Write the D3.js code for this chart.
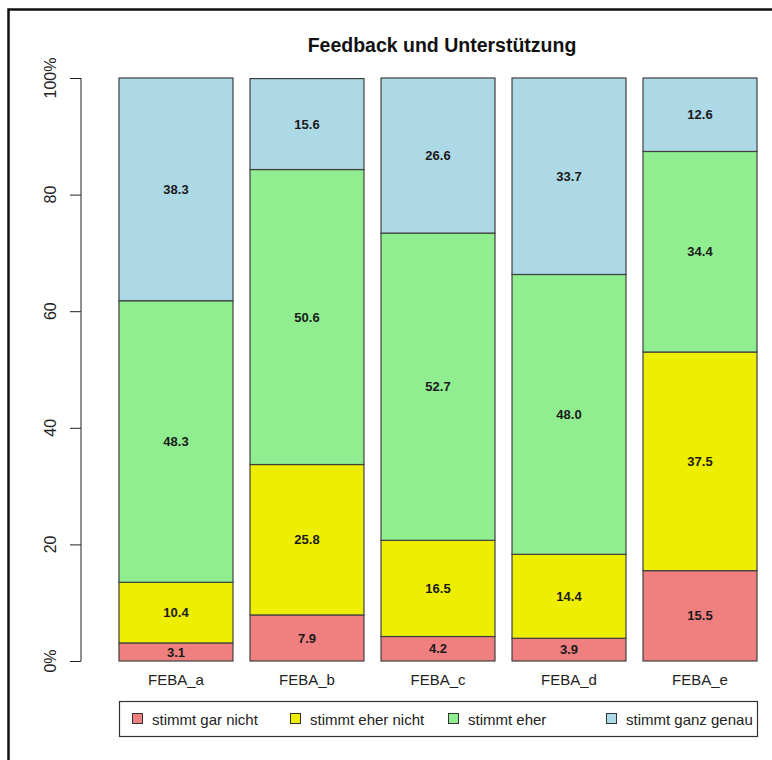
<!DOCTYPE html>
<html>
<head>
<meta charset="utf-8">
<script src="https://cdn.jsdelivr.net/npm/d3@7"></script>
<style>
  body { margin: 0; background: #fff; }
  svg { display: block; font-family: Arial, "Liberation Sans", sans-serif; }
</style>
</head>
<body>
<div id="chart"></div>
<script>
// data
var items = ['FEBA_a', 'FEBA_b', 'FEBA_c', 'FEBA_d', 'FEBA_e'];
var levels = ['stimmt gar nicht', 'stimmt eher nicht', 'stimmt eher', 'stimmt ganz genau'];
var garNicht = [3.1, 7.9, 4.2, 3.9, 15.5];
var eherNicht = [10.4, 25.8, 16.5, 14.4, 37.5];
var eher = [48.3, 50.6, 52.7, 48.0, 34.4];
var ganzGenau = [38.3, 15.6, 26.6, 33.7, 12.6];
var yTicks = [0, 20, 40, 60, 80, 100];
var yTickLabels = ['0%', '20', '40', '60', '80', '100%'];

var colors = ['#F08080', '#EEEE00', '#90EE90', '#ADD8E6'];

var rows = items.map(function(d, i) {
    return {
        item: d,
        'stimmt gar nicht': garNicht[i],
        'stimmt eher nicht': eherNicht[i],
        'stimmt eher': eher[i],
        'stimmt ganz genau': ganzGenau[i]
    };
});

var width = 772,
    height = 760;

var svg = d3.select('#chart')
    .append('svg')
    .attr('width', width)
    .attr('height', height);

// outer frame
svg.append('rect')
    .attr('x', 8.5)
    .attr('y', 9.5)
    .attr('width', 900)
    .attr('height', 900)
    .attr('fill', 'none')
    .attr('stroke', '#111')
    .attr('stroke-width', 2.5);

var x = d3.scaleBand()
    .domain(items)
    .range([119, 757])
    .paddingInner(0.13)
    .paddingOuter(0);

var y = d3.scaleLinear()
    .domain([0, 100])
    .range([661, 78]);

var color = d3.scaleOrdinal(levels, colors);

var stacked = d3.stack().keys(levels)(rows);

// bars
var layer = svg.selectAll('g.layer')
    .data(stacked)
    .enter()
    .append('g')
    .attr('class', 'layer')
    .attr('fill', function(d) { return color(d.key); });

layer.selectAll('rect')
    .data(function(d) { return d; })
    .enter()
    .append('rect')
    .attr('x', function(d) { return x(d.data.item); })
    .attr('y', function(d) { return y(Math.min(d[1], 100)); })
    .attr('width', x.bandwidth())
    .attr('height', function(d) { return y(d[0]) - y(Math.min(d[1], 100)); })
    .attr('stroke', '#404040')
    .attr('stroke-width', 1.2);

// value labels
layer.selectAll('text')
    .data(function(d) { return d; })
    .enter()
    .append('text')
    .attr('x', function(d) { return x(d.data.item) + x.bandwidth() / 2; })
    .attr('y', function(d) { return y((d[0] + d[1]) / 2); })
    .attr('dy', '0.35em')
    .attr('text-anchor', 'middle')
    .attr('fill', '#1a1a1a')
    .style('font-size', '13px')
    .style('font-weight', 'bold')
    .text(function(d) { return (d[1] - d[0]).toFixed(1); });

// y axis
var yAxis = svg.append('g')
    .attr('transform', 'translate(81,0)')
    .call(d3.axisLeft(y).tickValues(yTicks).tickSize(11).tickFormat(''));
yAxis.select('.domain').attr('stroke', '#222').attr('d', 'M0,' + y(0) + 'V' + y(100));
yAxis.selectAll('.tick line').attr('stroke', '#222');

svg.selectAll('.ylab')
    .data(yTicks)
    .enter()
    .append('text')
    .attr('class', 'ylab')
    .attr('transform', function(d) { return 'translate(56,' + y(d) + ') rotate(-90)'; })
    .attr('text-anchor', 'middle')
    .attr('fill', '#222')
    .style('font-size', '16px')
    .text(function(d, i) { return yTickLabels[i]; });

// x labels
svg.selectAll('.xlab')
    .data(items)
    .enter()
    .append('text')
    .attr('class', 'xlab')
    .attr('x', function(d) { return x(d) + x.bandwidth() / 2; })
    .attr('y', 685)
    .attr('text-anchor', 'middle')
    .attr('fill', '#222')
    .style('font-size', '15px')
    .text(function(d) { return d; });

// title
svg.append('text')
    .attr('x', 442)
    .attr('y', 52)
    .attr('text-anchor', 'middle')
    .attr('fill', '#111')
    .style('font-size', '19.5px')
    .style('font-weight', 'bold')
    .text('Feedback und Unterstützung');

// legend
svg.append('rect')
    .attr('x', 119.5)
    .attr('y', 701.5)
    .attr('width', 638)
    .attr('height', 35)
    .attr('fill', 'none')
    .attr('stroke', '#333')
    .attr('stroke-width', 1.2);

var legendX = [132, 290, 448, 606];

var legend = svg.selectAll('.legend')
    .data(levels)
    .enter()
    .append('g')
    .attr('class', 'legend')
    .attr('transform', function(d, i) { return 'translate(' + legendX[i] + ',713)'; });

legend.append('rect')
    .attr('x', 0.5)
    .attr('y', 0.5)
    .attr('width', 10)
    .attr('height', 10)
    .attr('fill', color)
    .attr('stroke', '#333');

legend.append('text')
    .attr('x', 20)
    .attr('y', 12)
    .attr('fill', '#222')
    .style('font-size', '15px')
    .text(function(d) { return d; });
</script>
</body>
</html>
